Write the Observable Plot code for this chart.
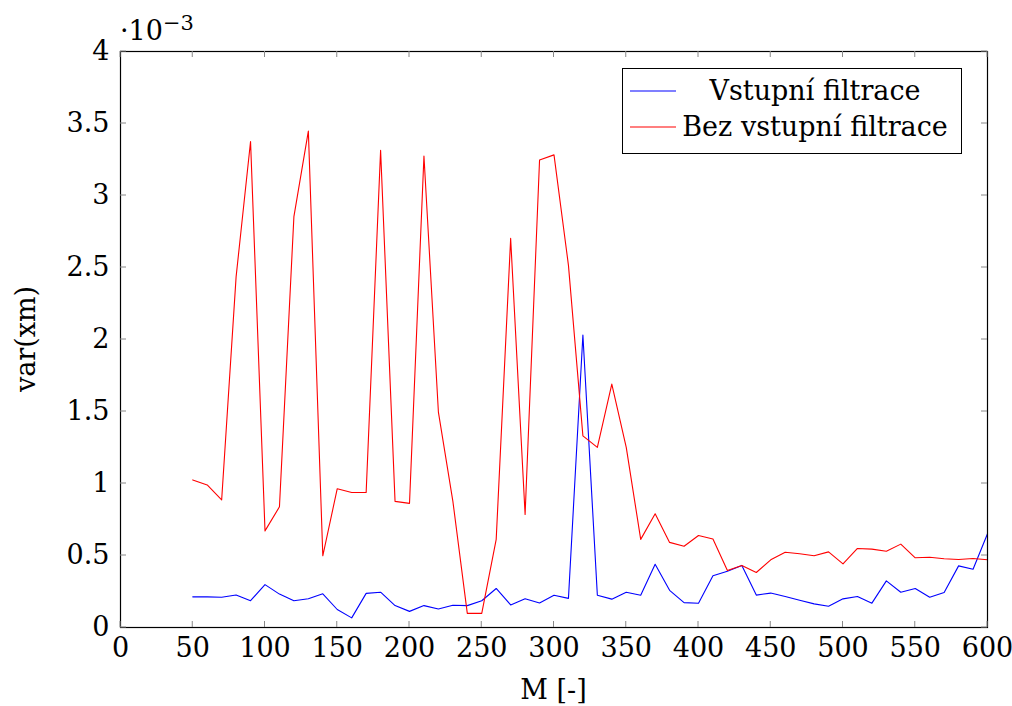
<!DOCTYPE html>
<html>
<head>
<meta charset="utf-8">
<script src="https://cdn.jsdelivr.net/npm/d3@7"></script>
<script src="https://cdn.jsdelivr.net/npm/@observablehq/plot@0.6"></script>
<style>
  body { margin: 0; background: #fff; }
  #chart { width: 1012px; height: 706px; }
  svg { font-family: "DejaVu Serif", "Liberation Serif", serif; }
</style>
</head>
<body>
<div id="chart"></div>
<script>
const M = d3.range(50, 601, 10);
// var(xm) values in units of 1e-3
const vstupniFiltrace = [
  0.213, 0.213, 0.210, 0.226, 0.186, 0.298, 0.232, 0.186, 0.200, 0.234,
  0.125, 0.067, 0.237, 0.245, 0.152, 0.112, 0.152, 0.128, 0.154, 0.152,
  0.186, 0.271, 0.157, 0.200, 0.170, 0.224, 0.202, 2.031, 0.224, 0.197,
  0.245, 0.224, 0.439, 0.258, 0.173, 0.168, 0.360, 0.391, 0.431, 0.225,
  0.239, 0.215, 0.189, 0.164, 0.148, 0.199, 0.215, 0.169, 0.324, 0.245,
  0.271, 0.210, 0.243, 0.428, 0.405, 0.651
];
const bezVstupniFiltrace = [
  1.025, 0.990, 0.886, 2.435, 3.375, 0.671, 0.838, 2.853, 3.447, 0.498,
  0.964, 0.937, 0.937, 3.314, 0.876, 0.862, 3.274, 1.496, 0.878, 0.098,
  0.098, 0.612, 2.702, 0.785, 3.247, 3.282, 2.515, 1.331, 1.251, 1.690,
  1.251, 0.612, 0.790, 0.591, 0.564, 0.639, 0.615, 0.396, 0.431, 0.382,
  0.470, 0.523, 0.512, 0.498, 0.525, 0.442, 0.549, 0.544, 0.530, 0.579,
  0.484, 0.488, 0.477, 0.472, 0.479, 0.470
];
const seriesNames = ["Vstupní filtrace", "Bez vstupní filtrace"];
const seriesColors = ["blue", "red"];
const xTicks = d3.range(0, 601, 50);
const yTicks = [0, 0.5, 1, 1.5, 2, 2.5, 3, 3.5, 4];

const data = [];
M.forEach((m, i) => {
  data.push({M: m, v: vstupniFiltrace[i], s: seriesNames[0]});
  data.push({M: m, v: bezVstupniFiltrace[i], s: seriesNames[1]});
});

const fmt = d => String(d);
const fs = 27;

const plot = Plot.plot({
  width: 1012,
  height: 706,
  marginLeft: 120,
  marginRight: 25,
  marginTop: 51,
  marginBottom: 79,
  style: {fontSize: fs + "px", fontFamily: "'DejaVu Serif', 'Liberation Serif', serif", background: "white", color: "black"},
  x: {domain: [0, 600]},
  y: {domain: [0, 4]},
  color: {domain: seriesNames, range: seriesColors},
  marks: [
    Plot.axisX({ticks: xTicks, tickSize: 0, tickPadding: 10, tickFormat: fmt, label: null, fontSize: fs}),
    Plot.axisY({ticks: yTicks, tickSize: 0, tickPadding: 11, tickFormat: fmt, label: null, fontSize: fs}),
    Plot.line(data, {x: "M", y: "v", stroke: "s", strokeWidth: 1.1}),
    Plot.frame({stroke: "black", strokeWidth: 1.2})
  ]
});

document.getElementById("chart").appendChild(plot);

const svg = d3.select(plot);
const xs = plot.scale("x"), ys = plot.scale("y");
const g = svg.append("g").attr("stroke", "#888").attr("stroke-width", 1);
const yb = ys.apply(0), yt = ys.apply(4), xl = xs.apply(0), xr = xs.apply(600);
// inward ticks on all four sides
xTicks.forEach(t => {
  const x = xs.apply(t);
  g.append("line").attr("x1", x).attr("x2", x).attr("y1", yb).attr("y2", yb - 6);
  g.append("line").attr("x1", x).attr("x2", x).attr("y1", yt).attr("y2", yt + 6);
});
yTicks.forEach(t => {
  const y = ys.apply(t);
  g.append("line").attr("x1", xl).attr("x2", xl + 6).attr("y1", y).attr("y2", y);
  g.append("line").attr("x1", xr).attr("x2", xr - 6).attr("y1", y).attr("y2", y);
});

// axis labels
svg.append("text").attr("x", (xl + xr) / 2).attr("y", 699)
  .attr("text-anchor", "middle").attr("font-size", fs).text("M [-]");
svg.append("text").attr("transform", `translate(35,${(yb + yt) / 2}) rotate(-90)`)
  .attr("text-anchor", "middle").attr("font-size", fs).text("var(xm)");

// scale factor
const sf = svg.append("text").attr("x", 120).attr("y", 40).attr("text-anchor", "start").attr("font-size", fs);
sf.append("tspan").text("·10");
sf.append("tspan").attr("dy", -10).attr("font-size", 21).text("−3");

// legend
const lg = svg.append("g");
lg.append("rect").attr("x", 622.5).attr("y", 68.5).attr("width", 339).attr("height", 85)
  .attr("fill", "white").attr("stroke", "black").attr("stroke-width", 1);
seriesNames.forEach((name, i) => {
  const y = 91 + i * 36;
  lg.append("line").attr("x1", 630).attr("x2", 676).attr("y1", y).attr("y2", y)
    .attr("stroke", seriesColors[i]).attr("stroke-width", 1.1);
  lg.append("text").attr("x", 815).attr("y", y + 9).attr("text-anchor", "middle")
    .attr("font-size", fs).text(name);
});
</script>
</body>
</html>
